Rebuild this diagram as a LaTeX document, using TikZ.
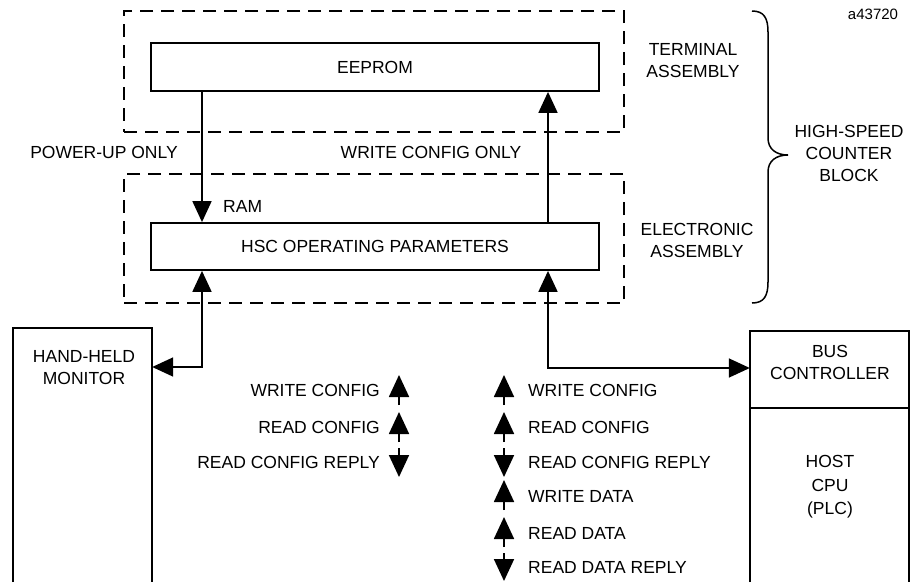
\documentclass[tikz,border=0pt]{standalone}
\usepackage{fontspec}
\setmainfont{Liberation Sans}
\usetikzlibrary{arrows.meta}
\begin{document}
\begin{tikzpicture}[x=1pt,y=-1pt,
  line/.style={line width=1.8pt},
  dashbox/.style={draw, line width=1.8pt, dash pattern=on 13pt off 8pt, inner sep=0pt},
  solidbox/.style={draw, line width=1.8pt, inner sep=0pt},
  openbox/.style={inner sep=0pt},
  txt/.style={font=\fontsize{17.5}{22}\selectfont, align=center, inner sep=0pt},
  tip/.style={Triangle[width=19pt,length=21pt]},
  legtip/.style={Triangle[width=20pt,length=22pt]},
  arr/.style={line, -{Triangle[width=19pt,length=21pt]}},
  darr/.style={line, {Triangle[width=19pt,length=21pt]}-{Triangle[width=19pt,length=21pt]}},
  legarr/.style={line width=1.8pt, -{Triangle[width=20pt,length=22pt]}}
]
\useasboundingbox (0,0) rectangle (910,582);

% assemblies
\node[dashbox, minimum width=500pt, minimum height=121pt] (term) at (374,71.5) {};
\node[dashbox, minimum width=500pt, minimum height=129pt] (elec) at (374,238.5) {};
\node[solidbox, fill=white, minimum width=448pt, minimum height=48pt, txt] (eeprom) at (375,67) {EEPROM};
\node[solidbox, fill=white, minimum width=448pt, minimum height=47pt, txt] (hsc) at (375,246.5) {HSC OPERATING PARAMETERS};

% connectors between EEPROM and RAM
\draw[arr] (eeprom.south -| 202,0) -- (hsc.north -| 202,0);
\draw[arr] (hsc.north -| 548,0) -- (eeprom.south -| 548,0);

\node[txt] (pwr) at (104,152) {POWER-UP ONLY};
\node[txt] (wco) at (431,152) {WRITE CONFIG ONLY};
\node[txt, anchor=west] (ram) at (223,206) {RAM};
\node[txt] (terml) at (693,60.5) {TERMINAL\\ASSEMBLY};
\node[txt] (elecl) at (697,240) {ELECTRONIC\\ASSEMBLY};
\node[txt] (hscb) at (849,153) {HIGH-SPEED\\COUNTER\\BLOCK};
\node[font=\fontsize{15}{18}\selectfont, inner sep=0pt] (fig) at (873,14) {a43720};

% brace
\draw[line width=1.5pt] (752,11) .. controls (764,11) and (768,18) .. (768,32) -- (768,138)
  .. controls (768,149) and (776,155) .. (788,155)
  .. controls (776,155) and (768,161) .. (768,172) -- (768,282)
  .. controls (768,296) and (764,303) .. (752,303);

% hand-held monitor
\node[openbox, minimum width=139pt, minimum height=254pt] (mon) at (82.5,455) {};
\draw[line] (mon.south west) -- (mon.north west) -- (mon.north east) -- (mon.south east);
\node[txt] (monl) at (84,367.5) {HAND-HELD\\MONITOR};

% bus controller / host
\node[openbox, minimum width=159pt, minimum height=251pt] (bus) at (829.5,456.5) {};
\draw[line] (bus.south west) -- (bus.north west) -- (bus.north east) -- (bus.south east);
\draw[line] (bus.west |- 0,408) -- (bus.east |- 0,408);
\node[txt] (busl) at (830,362) {BUS\\CONTROLLER};
\node[txt, font=\fontsize{17.5}{23.5}\selectfont] (hostl) at (830,487) {HOST\\CPU\\(PLC)};

% connectors to monitor and bus controller
\draw[darr] (mon.east |- 0,367) -| (hsc.south -| 202,0);
\draw[darr] (bus.west |- 0,368) -| (hsc.south -| 548,0);

% left legend
\coordinate (la1) at (399,405); \coordinate (lb1) at (399,375);
\coordinate (la2) at (399,442); \coordinate (lb2) at (399,412);
\coordinate (la3) at (399,448); \coordinate (lb3) at (399,477);
\draw[legarr] (la1) -- (lb1);
\draw[legarr] (la2) -- (lb2);
\draw[legarr] (la3) -- (lb3);
\node[txt, anchor=east] (ll1) at (380,390) {WRITE CONFIG};
\node[txt, anchor=east] (ll2) at (380,427) {READ CONFIG};
\node[txt, anchor=east] (ll3) at (380,462) {READ CONFIG REPLY};

% right legend
\coordinate (ra1) at (504,405); \coordinate (rb1) at (504,375);
\coordinate (ra2) at (504,442); \coordinate (rb2) at (504,412);
\coordinate (ra3) at (504,448); \coordinate (rb3) at (504,477);
\coordinate (ra4) at (504,510); \coordinate (rb4) at (504,480);
\coordinate (ra5) at (504,547); \coordinate (rb5) at (504,517);
\coordinate (ra6) at (504,553); \coordinate (rb6) at (504,581);
\draw[legarr] (ra1) -- (rb1);
\draw[legarr] (ra2) -- (rb2);
\draw[legarr] (ra3) -- (rb3);
\draw[legarr] (ra4) -- (rb4);
\draw[legarr] (ra5) -- (rb5);
\draw[legarr] (ra6) -- (rb6);
\node[txt, anchor=west] (rl1) at (528,390) {WRITE CONFIG};
\node[txt, anchor=west] (rl2) at (528,427) {READ CONFIG};
\node[txt, anchor=west] (rl3) at (528,462) {READ CONFIG REPLY};
\node[txt, anchor=west] (rl4) at (528,496) {WRITE DATA};
\node[txt, anchor=west] (rl5) at (528,533) {READ DATA};
\node[txt, anchor=west] (rl6) at (528,567) {READ DATA REPLY};
\end{tikzpicture}
\end{document}
